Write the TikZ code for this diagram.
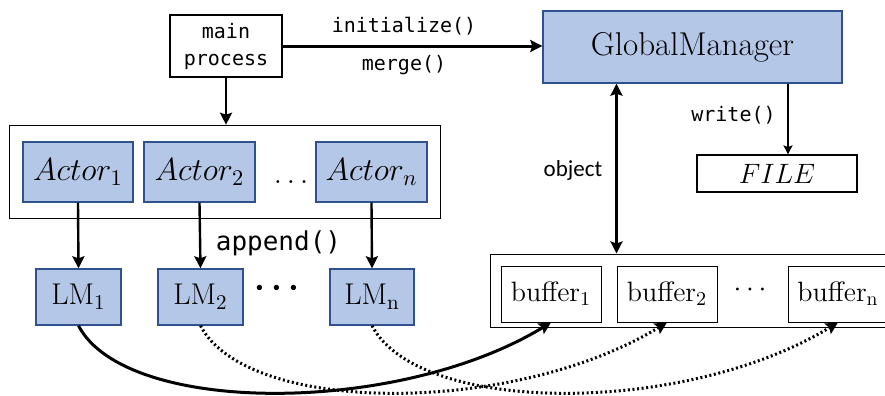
\RequirePackage{fix-cm}
\documentclass[tikz,border=0pt]{standalone}
\usepackage{fontspec}
\setmonofont{DejaVu Sans Mono}
\newfontfamily\objfont{Carlito}
\usetikzlibrary{fit,arrows.meta}
\definecolor{lmfill}{RGB}{180,199,231}
\definecolor{lmdraw}{RGB}{47,82,143}

\begin{document}
\begin{tikzpicture}[x=0.5pt, y=-0.5pt, >={Stealth[length=6pt,width=6pt,inset=1pt]},
  plain/.style = {draw, line width=0.6pt, inner sep=0pt},
  bluebox/.style = {draw=lmdraw, fill=lmfill, line width=0.7pt, inner sep=0pt},
  code/.style = {font=\ttfamily\fontsize{10}{12}\selectfont},
  bigcode/.style = {font=\ttfamily\fontsize{13}{15}\selectfont},
  arr/.style = {->, line width=1.2pt},
  curve/.style = {->, line width=1.5pt},
  dots/.style = {curve, dash pattern=on 1pt off 1.3pt}]
\useasboundingbox (0,0) rectangle (885,396);

\node[plain, line width=0.8pt, minimum width=56pt, minimum height=31pt, align=center,
  font=\ttfamily\fontsize{10}{13.5}\selectfont] (main) at (226,46) {main\\process};
\node[bluebox, minimum width=149.5pt, minimum height=36pt, font=\fontsize{16.5}{19}\selectfont] (gm) at (692.5,47) {GlobalManager};
\node[plain, minimum width=80pt, minimum height=18.5pt, font=\fontsize{14}{16}\selectfont] (file) at (777,173.5) {$FILE$};

% actors and their local managers
\node[bluebox, minimum width=55pt, minimum height=30pt, font=\fontsize{16}{19}\selectfont] (a1) at (78,172) {$Actor_1$};
\node[bluebox, minimum width=55.5pt, minimum height=30pt, font=\fontsize{16}{19}\selectfont] (a2) at (199.5,172) {$Actor_2$};
\node[bluebox, minimum width=55.5pt, minimum height=30pt, font=\fontsize{16}{19}\selectfont] (an) at (371.5,172) {$Actor_n$};
\node[font=\fontsize{15}{18}\selectfont] (adots) at (291,182) {$\dots$};
\node[plain, fit=(a1)(an), inner xsep=6.5pt, inner ysep=8pt] (actors) {};

\node[bluebox, minimum width=42.5pt, minimum height=28pt, font=\fontsize{15}{18}\selectfont] (lm1) at (78.5,297) {LM$_1$};
\node[bluebox, minimum width=42.5pt, minimum height=28pt, font=\fontsize{15}{18}\selectfont] (lm2) at (200.5,297) {LM$_2$};
\node[bluebox, minimum width=42pt, minimum height=28pt, font=\fontsize{15}{18}\selectfont] (lmn) at (372,297) {LM$_\mathrm{n}$};
\node[font=\fontsize{17}{20}\selectfont\boldmath] (lmdots) at (277,288) {$\cdots$};

% buffers
\node[plain, line width=0.5pt, minimum width=204.5pt, minimum height=36.5pt] (bufs) at (694.5,290.5) {};
\node[plain, line width=0.5pt, minimum width=50pt, minimum height=28pt, font=\fontsize{14}{16}\selectfont] (b1) at (551,294) {buffer$_1$};
\node[plain, line width=0.5pt, minimum width=50pt, minimum height=28pt, font=\fontsize{14}{16}\selectfont] (b2) at (667,294) {buffer$_2$};
\node[plain, line width=0.5pt, minimum width=50pt, minimum height=28pt, font=\fontsize{14}{16}\selectfont] (bn) at (838,294) {buffer$_\mathrm{n}$};
\node[font=\fontsize{14}{16}\selectfont] (bdots) at (750,290) {$\cdots$};

% labels
\node[code] (init) at (404,26) {initialize()};
\node[code] (merge) at (404,65) {merge()};
\node[bigcode] (app) at (278.5,243) {append()};
\node[code] (wr) at (733.5,115) {write()};
\node[font=\objfont\fontsize{11.5}{14}\selectfont] (obj) at (573,170) {object};

\draw[->, line width=1.5pt] (main) -- (main -| gm.west);
\draw[arr] (main.south) -- (main.south |- actors.north);
\draw[arr] (a1.south) -- (lm1.north);
\draw[arr] (a2.south) -- (lm2.north);
\draw[arr] (an.south) -- (lmn.north);
\draw[<->, line width=1.4pt] (b2.west |- gm.south) -- (b2.west |- bufs.north);
\coordinate (wtop) at ([xshift=5.5pt]file.north);
\draw[-{Stealth[length=4.5pt,width=4.5pt,inset=0.8pt]}, line width=0.8pt] (wtop |- gm.south) -- (wtop);

\draw[curve] (lm1.south) .. controls +(47,90) and +(-153,93) .. (b1.south);
\draw[dots] (lm2.south) .. controls +(47,90) and +(-153,93) .. (b2.south);
\draw[dots] (lmn.south) .. controls +(47,90) and +(-153,93) .. (bn.south);
\end{tikzpicture}
\end{document}
